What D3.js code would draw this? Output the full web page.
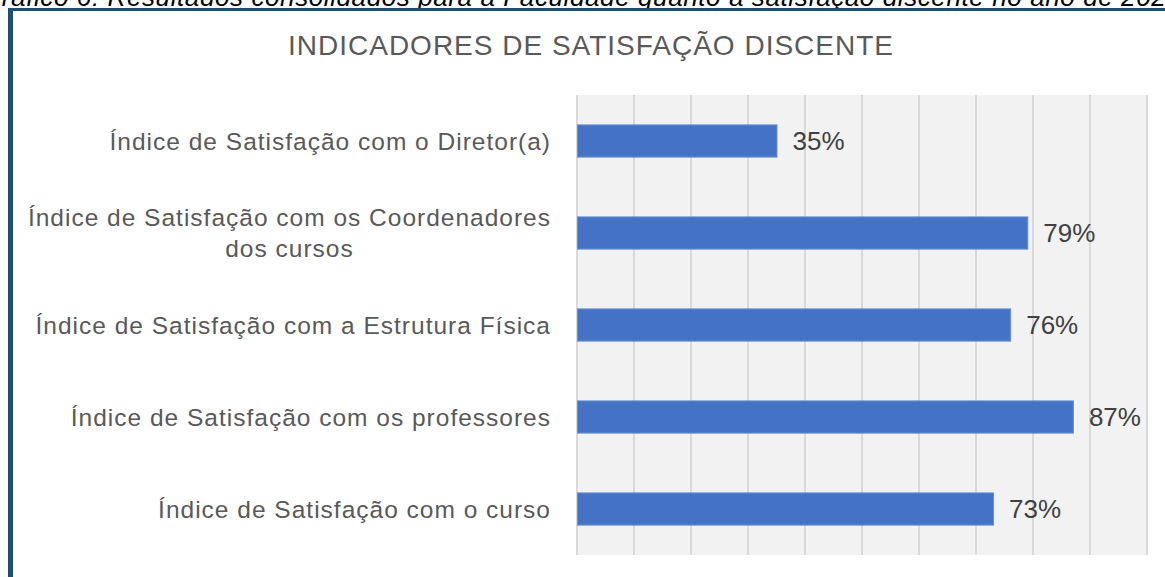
<!DOCTYPE html>
<html>
<head>
<meta charset="utf-8">
<script src="https://cdn.jsdelivr.net/npm/d3@7"></script>
<style>
  html, body { margin: 0; padding: 0; background: #fff; overflow: hidden; }
  svg { display: block; font-family: "Liberation Sans", Arial, sans-serif; }
</style>
</head>
<body>
<svg id="chart"></svg>
<script>
// data
const categories = [
  "Índice de Satisfação com o Diretor(a)",
  "Índice de Satisfação com os Coordenadores|dos cursos",
  "Índice de Satisfação com a Estrutura Física",
  "Índice de Satisfação com os professores",
  "Índice de Satisfação com o curso"
];
const values = [0.35, 0.79, 0.76, 0.87, 0.73];
const gridTicks = [0, 0.1, 0.2, 0.3, 0.4, 0.5, 0.6, 0.7, 0.8, 0.9, 1.0];
const title = "INDICADORES DE SATISFAÇÃO DISCENTE";
const caption = "Gráfico 6: Resultados consolidados para a Faculdade quanto à satisfação discente no ano de 2023";

const width = 1165, height = 577;
const plot = { left: 577, right: 1147, top: 95, bottom: 555 };

const svg = d3.select("#chart").attr("width", width).attr("height", height);

// caption, cut off at the top of the page as in the source
svg.append("text")
  .attr("x", -19)
  .attr("y", 6)
  .attr("font-size", 26)
  .attr("letter-spacing", 0.6)
  .attr("font-style", "italic")
  .attr("fill", "#000")
  .text(caption);

// frame (left and top edges are visible)
svg.append("line")
  .attr("x1", 10.5).attr("x2", 10.5).attr("y1", 8).attr("y2", height)
  .attr("stroke", "#1f4e79").attr("stroke-width", 5);
svg.append("line")
  .attr("x1", 8).attr("x2", width).attr("y1", 9.5).attr("y2", 9.5)
  .attr("stroke", "#1f4e79").attr("stroke-width", 3);

svg.append("text")
  .attr("x", 591)
  .attr("y", 55)
  .attr("text-anchor", "middle")
  .attr("font-size", 28)
  .attr("letter-spacing", 1)
  .attr("fill", "#595959")
  .text(title);

const x = d3.scaleLinear().domain([0, 1]).range([plot.left, plot.right]);
const y = d3.scaleBand()
  .domain(categories)
  .range([plot.top, plot.bottom])
  .paddingInner(0.65)
  .paddingOuter(0.325);

// plot background
svg.append("rect")
  .attr("x", plot.left).attr("y", plot.top)
  .attr("width", plot.right - plot.left)
  .attr("height", plot.bottom - plot.top)
  .attr("fill", "#f2f2f2");

// vertical gridlines
svg.append("g")
  .selectAll("line")
  .data(gridTicks)
  .join("line")
  .attr("x1", d => x(d)).attr("x2", d => x(d))
  .attr("y1", plot.top).attr("y2", plot.bottom)
  .attr("stroke", "#d9d9d9")
  .attr("stroke-width", 2);

// bars
svg.append("g")
  .selectAll("rect")
  .data(values)
  .join("rect")
  .attr("x", x(0) + 0.5)
  .attr("y", (d, i) => y(categories[i]))
  .attr("width", d => x(d) - x(0))
  .attr("height", y.bandwidth())
  .attr("fill", "#4472c4")
  .attr("stroke", "#6a8fd3")
  .attr("stroke-width", 1);

// value labels
svg.append("g")
  .selectAll("text")
  .data(values)
  .join("text")
  .attr("x", d => x(d) + 16)
  .attr("y", (d, i) => y(categories[i]) + y.bandwidth() / 2)
  .attr("dy", "0.35em")
  .attr("font-size", 26)
  .attr("fill", "#404040")
  .text(d => d3.format(".0%")(d));

// category labels, right aligned; wrapped lines centred on each other
const labelRight = 551, lineH = 31;
categories.forEach(c => {
  const lines = c.split("|");
  const cy = y(c) + y.bandwidth() / 2;
  const g = svg.append("g");
  const texts = lines.map((ln, j) => g.append("text")
    .attr("y", cy + (j - (lines.length - 1) / 2) * lineH)
    .attr("dy", "0.35em")
    .attr("font-size", 24.5)
    .attr("letter-spacing", 1)
    .attr("fill", "#595959")
    .text(ln));
  const widest = d3.max(texts, t => t.node().getComputedTextLength());
  texts.forEach(t => t.attr("x", labelRight - widest / 2).attr("text-anchor", "middle"));
});
</script>
</body>
</html>
